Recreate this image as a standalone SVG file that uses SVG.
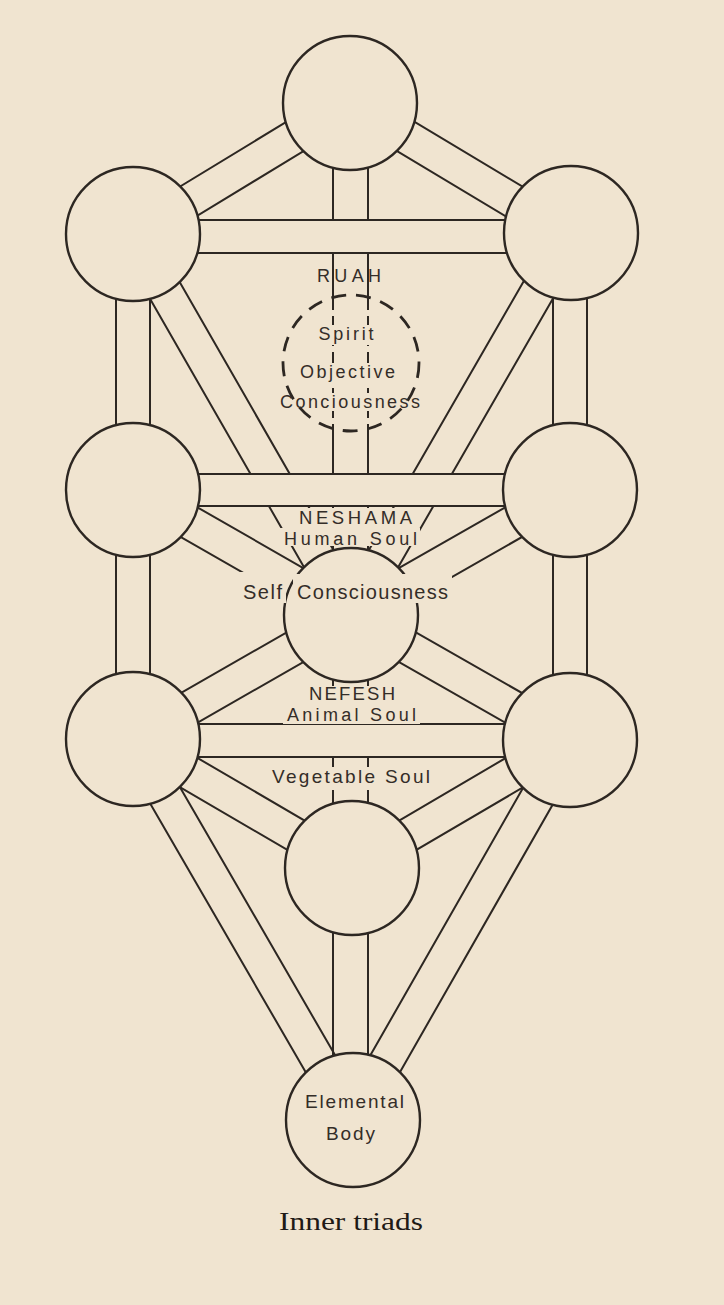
<svg xmlns="http://www.w3.org/2000/svg" width="724" height="1305" viewBox="0 0 724 1305">
<defs>
<style>
.ln{stroke:#2d2722;stroke-width:2;fill:none}
.dl{stroke:#2d2722;stroke-width:2;stroke-dasharray:12 6;fill:none}
.cv{fill:#f0e4d0;stroke:none}
.nd{fill:#f0e4d0;stroke:#2d2722;stroke-width:2.4}
.dash{fill:none;stroke:#2d2722;stroke-width:2.8;stroke-dasharray:15 10}
.ko{fill:#f0e4d0}
.t{font-family:"Liberation Sans",Arial,sans-serif;fill:#342d28;text-anchor:middle}
.s{font-family:"Liberation Serif","Times New Roman",serif;fill:#1f1a16;text-anchor:middle}
</style>
</defs>
<rect width="724" height="1305" fill="#f0e4d0"/>
<g id="connectors">
  <path class="ln" d="M341.2 88.5L124.2 220.5M358.8 117.5L141.8 249.5"/>
  <path class="ln" d="M341.3 117.6L561.3 249.6M358.8 88.4L578.8 220.4"/>
  <path class="ln" d="M118.3 243.5L336.3 623.5M147.8 226.5L365.8 606.5"/>
  <path class="ln" d="M555.3 226.5L336.3 606.5M584.7 243.5L365.7 623.5"/>
  <path class="ln" d="M124.5 504.8L342.5 629.8M141.5 475.3L359.5 600.3"/>
  <path class="ln" d="M561.6 475.2L342.6 600.2M578.4 504.8L359.4 629.8"/>
  <path class="ln" d="M141.5 754.8L359.5 629.8M124.5 725.3L342.5 600.3"/>
  <path class="ln" d="M578.4 725.2L359.4 600.2M561.6 754.8L342.6 629.8"/>
  <path class="ln" d="M124.4 754.7L343.4 882.7M141.6 725.3L360.6 853.3"/>
  <path class="ln" d="M561.4 725.3L343.4 853.3M578.6 754.7L360.6 882.7"/>
  <path class="ln" d="M118.3 748.5L338.3 1128.5M147.7 731.5L367.7 1111.5"/>
  <path class="ln" d="M555.2 731.6L338.2 1111.6M584.8 748.4L367.8 1128.4"/>
  <path class="ln" d="M116 235V740M150 235V740M553 235V740M587 235V740"/>
  <path class="ln" d="M333 103V298M368 103V298M333 428V1120M368 428V1120"/>
  <path class="dl" d="M333 298V428M368 298V428"/>
  <rect class="cv" x="133" y="221" width="437" height="31"/>
  <path class="ln" d="M133 220H570M133 253H570"/>
  <rect class="cv" x="133" y="475" width="437" height="30"/>
  <path class="ln" d="M133 474H570M133 506H570"/>
  <rect class="cv" x="133" y="725" width="437" height="31"/>
  <path class="ln" d="M133 724H570M133 757H570"/>
  <rect class="cv" x="316" y="325" width="60" height="20"/>
  <rect class="cv" x="298" y="363" width="100" height="20"/>
  <rect class="cv" x="279" y="393" width="143" height="18"/>
</g>
<g id="kether"><circle class="nd" cx="350" cy="103" r="67"/></g>
<g id="binah"><circle class="nd" cx="133" cy="234" r="67"/></g>
<g id="chokmah"><circle class="nd" cx="571" cy="233" r="67"/></g>
<g id="daath"><circle class="dash" cx="351" cy="363" r="68"/></g>
<g id="chesed"><circle class="nd" cx="133" cy="490" r="67"/></g>
<g id="geburah"><circle class="nd" cx="570" cy="490" r="67"/></g>
<g id="tiphareth"><circle class="nd" cx="351" cy="615" r="67"/></g>
<g id="netzach"><circle class="nd" cx="133" cy="739" r="67"/></g>
<g id="hod"><circle class="nd" cx="570" cy="740" r="67"/></g>
<g id="yesod"><circle class="nd" cx="352" cy="868" r="67"/></g>
<g id="malkuth">
  <circle class="nd" cx="353" cy="1120" r="67"/>
  <text class="t" x="354.5" y="1108" font-size="19" textLength="99">Elemental</text>
  <text class="t" x="350.5" y="1140" font-size="19" textLength="49">Body</text>
</g>
<g id="labels">
  <text class="t" x="349" y="282" font-size="18" textLength="64">RUAH</text>
  <text class="t" x="346" y="340" font-size="18" textLength="55">Spirit</text>
  <text class="t" x="347.5" y="378" font-size="18" textLength="95">Objective</text>
  <text class="t" x="350" y="408" font-size="18" textLength="140">Conciousness</text>
  <rect class="ko" x="296" y="508" width="119" height="20"/>
  <text class="t" x="355.5" y="524" font-size="18.5" textLength="113">NESHAMA</text>
  <rect class="ko" x="280" y="528" width="140" height="18"/>
  <text class="t" x="350.5" y="545" font-size="18" textLength="133">Human Soul</text>
  <rect class="ko" x="238" y="572" width="48" height="31"/>
  <text class="t" x="262.5" y="599" font-size="20" textLength="39">Self</text>
  <rect class="ko" x="293" y="574" width="159" height="29"/>
  <text class="t" x="372.5" y="599" font-size="20" textLength="151">Consciousness</text>
  <rect class="ko" x="305" y="686" width="94" height="19"/>
  <text class="t" x="352" y="700" font-size="18.5" textLength="86">NEFESH</text>
  <rect class="ko" x="283" y="705" width="137" height="19"/>
  <text class="t" x="351.5" y="721" font-size="18" textLength="129">Animal Soul</text>
  <rect class="ko" x="268" y="767" width="166" height="23"/>
  <text class="t" x="351" y="783" font-size="19" textLength="158">Vegetable Soul</text>
  <text class="s" x="351" y="1230" font-size="25" textLength="144" lengthAdjust="spacingAndGlyphs">Inner triads</text>
</g>
</svg>
